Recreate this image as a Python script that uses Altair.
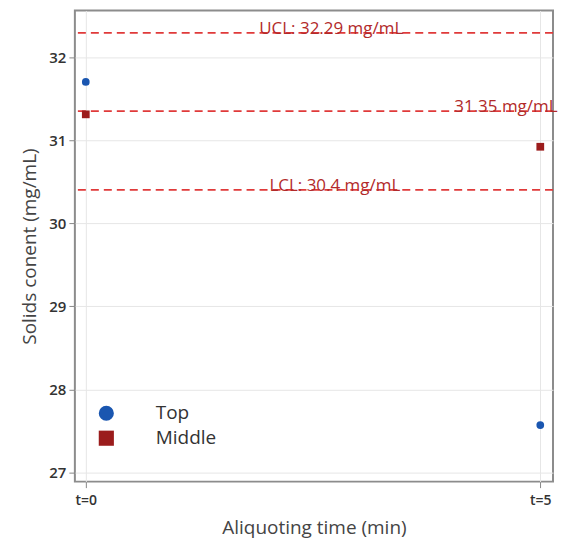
import altair as alt
import pandas as pd

times = [0, 0, 5, 5]
groups = ["Top", "Middle", "Middle", "Top"]
solids = [31.70, 31.31, 30.92, 27.57]

limit_values = [32.29, 31.35, 30.40]
limit_labels = ["UCL: 32.29 mg/mL", "31.35 mg/mL", "LCL: 30.4 mg/mL"]
label_x = [2.7, 5.19, 2.74]
label_align = ["center", "right", "center"]

pts = pd.DataFrame({"t": times, "group": groups, "solids": solids})
lim = pd.DataFrame({"y": limit_values, "label": limit_labels, "lx": label_x, "align": label_align})

FONT = "Open Sans"
xs = alt.Scale(domain=[-0.12, 5.14], nice=False, zero=False)
ys = alt.Scale(domain=[26.89, 32.56], nice=False, zero=False)

leg = alt.Legend(title=None, orient="none", legendX=22, legendY=394,
                 symbolSize=230, labelFontSize=19, labelColor="#333",
                 labelFont=FONT, labelOffset=40, rowPadding=5)

points = alt.Chart(pts).mark_point(filled=True, opacity=1, size=60).encode(
    x=alt.X("t:Q", scale=xs, title="Aliquoting time (min)",
            axis=alt.Axis(values=[0, 5], labelExpr="'t=' + datum.value", grid=True,
                          gridColor="#e6e6e6", tickColor="#888", tickSize=6, domain=False,
                          labelFontSize=14, labelColor="#333", labelFontWeight=600,
                          titleFontSize=19, titleColor="#444", titleFontWeight="normal",
                          titlePadding=11, labelPadding=6, labelFont=FONT, titleFont=FONT)),
    y=alt.Y("solids:Q", scale=ys, title="Solids conent (mg/mL)",
            axis=alt.Axis(values=[27, 28, 29, 30, 31, 32], format="d", grid=True,
                          gridColor="#e6e6e6", tickColor="#888", tickSize=6, domain=False,
                          labelFontSize=15, labelColor="#333", labelFontWeight=600,
                          titleFontSize=19, titleColor="#444", titleFontWeight="normal",
                          titlePadding=9, labelPadding=3, labelFont=FONT, titleFont=FONT)),
    color=alt.Color("group:N", scale=alt.Scale(domain=["Top", "Middle"], range=["#1a56b0", "#9b1c1c"]),
                    legend=leg),
    shape=alt.Shape("group:N", scale=alt.Scale(domain=["Top", "Middle"], range=["circle", "square"]),
                    legend=leg),
)

rules = alt.Chart(lim).mark_rule(color="#e03a3a", strokeDash=[8, 5], strokeWidth=1.8).encode(
    y=alt.Y("y:Q", scale=ys)
)

texts_c = alt.Chart(lim[lim["align"] == "center"]).mark_text(
    align="center", baseline="alphabetic", dy=1, fontSize=17, color="#b22a2a", font=FONT
).encode(x=alt.X("lx:Q", scale=xs), y=alt.Y("y:Q", scale=ys), text="label:N")

texts_r = alt.Chart(lim[lim["align"] == "right"]).mark_text(
    align="right", baseline="alphabetic", dy=1, fontSize=17, color="#b22a2a", font=FONT
).encode(x=alt.X("lx:Q", scale=xs), y=alt.Y("y:Q", scale=ys), text="label:N")

chart = alt.layer(rules, texts_c, texts_r, points).properties(
    width=479, height=472,
    autosize=alt.AutoSizeParams(type="none"),
    padding={"left": 67, "top": 2, "right": 5, "bottom": 60},
).configure_view(stroke="#8c8c8c", strokeWidth=2)

chart.save("out.html", embed_options={"renderer": "svg", "actions": False})
